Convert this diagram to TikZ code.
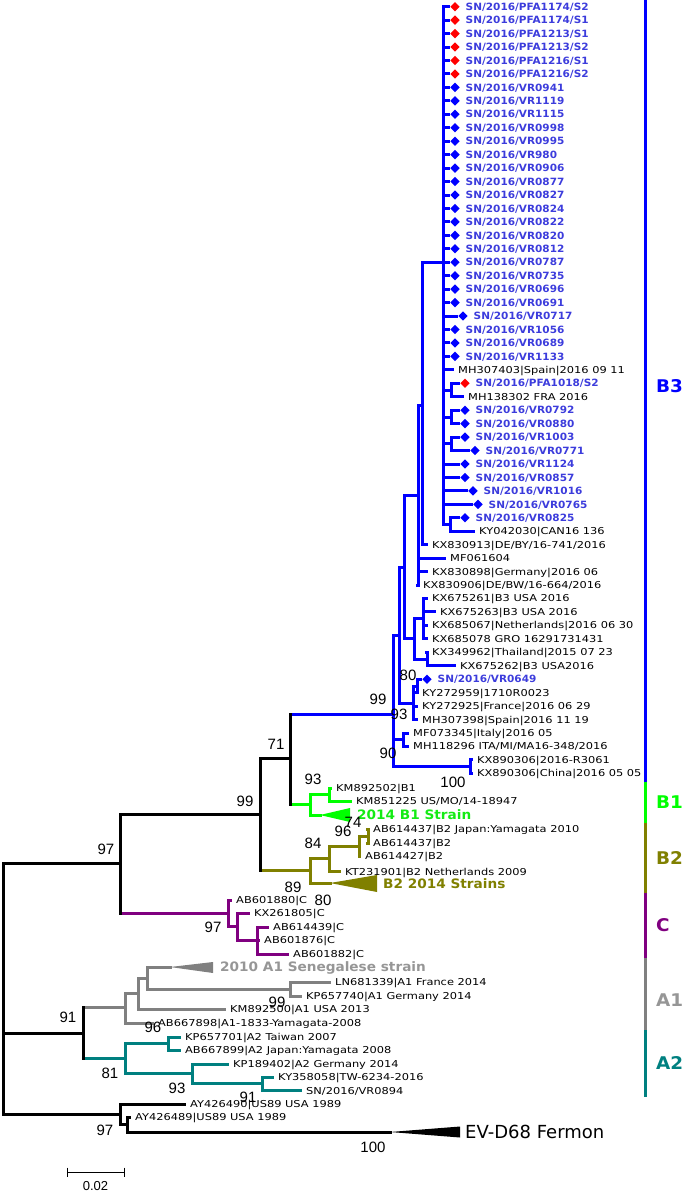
\documentclass[tikz,border=0pt]{standalone}
\usepackage{fontspec}
\newfontfamily\accfont{DejaVu Sans}[FakeStretch=1.2]
\newfontfamily\snfont{DejaVu Sans}[FakeStretch=1.05]
\newfontfamily\evfont{DejaVu Sans}
\newfontfamily\numfont{Liberation Sans}
\usetikzlibrary{shapes.geometric}
\definecolor{bthree}{RGB}{0,0,255}
\definecolor{snblue}{RGB}{60,60,220}
\definecolor{dred}{RGB}{255,0,0}
\definecolor{bone}{RGB}{0,255,0}
\definecolor{bonetxt}{RGB}{20,235,20}
\definecolor{btwo}{RGB}{128,128,0}
\definecolor{cclade}{RGB}{128,0,128}
\definecolor{aone}{RGB}{128,128,128}
\definecolor{aonetxt}{RGB}{150,150,150}
\definecolor{atwo}{RGB}{0,128,128}

\begin{document}
\begin{tikzpicture}[x=1pt,y=-1pt,
  br/.style={line width=3pt,line cap=rect},
  lf/.style={br,shorten >=5.5pt},
  df/.style={br,shorten >=1.5pt},
  dia/.style={diamond,inner sep=0pt,minimum size=9.5pt},
  sn/.style={anchor=west,inner sep=0pt,text=snblue,text height=7.3pt,text depth=0pt,
    font=\snfont\bfseries\fontsize{10}{12}\selectfont},
  acc/.style={anchor=west,inner sep=0pt,text height=6.9pt,text depth=0pt,
    font=\accfont\fontsize{9.5}{11}\selectfont},
  grp/.style={anchor=west,inner sep=0pt,text height=9.5pt,text depth=0pt,
    font=\snfont\bfseries\fontsize{13}{15}\selectfont},
  cl/.style={anchor=west,inner sep=0pt,text height=12.8pt,text depth=0pt,
    font=\snfont\bfseries\fontsize{17.5}{20}\selectfont},
  bs/.style={inner sep=0pt,font=\numfont\fontsize{15}{17}\selectfont}]
\useasboundingbox (0,0) rectangle (685,1191);

\coordinate (rt) at (3,988.5);
\coordinate (n97) at (120,863);
\coordinate (n99) at (260,814);
\coordinate (n71) at (290,758);
\coordinate (r3) at (393,714);
\coordinate (y3) at (399,635);
\coordinate (w3) at (404,567);
\coordinate (v3) at (418,495);
\coordinate (u3) at (422,405.5);
\coordinate (t3) at (443,262);
\coordinate (z3) at (414,638.9);
\coordinate (q3) at (423,618.7);
\coordinate (p48) at (427,659);
\coordinate (n93) at (413,703);
\coordinate (n80) at (417,686);
\coordinate (ita) at (403,739.7);
\coordinate (chn) at (470,766.6);
\coordinate (p28) at (451,390);
\coordinate (p30) at (451,417);
\coordinate (p32) at (451,443.8);
\coordinate (p38) at (450,524.5);
\coordinate (b1) at (310,804);
\coordinate (b1a) at (329,794.6);
\coordinate (b1t) at (320,815);
\coordinate (b2) at (310,870.5);
\coordinate (b2a) at (329,858.5);
\coordinate (b2b) at (359,846);
\coordinate (p61) at (368,836);
\coordinate (b2t) at (330,883);
\coordinate (cn) at (228,913);
\coordinate (c2) at (237,926.5);
\coordinate (c3) at (257,940);
\coordinate (an) at (83,1033);
\coordinate (a1n) at (125,1007.5);
\coordinate (a1b) at (138,993.5);
\coordinate (a1c) at (147,978);
\coordinate (a1d) at (290,989);
\coordinate (a1t) at (170,967);
\coordinate (a2n) at (125,1058);
\coordinate (p76) at (168,1043.5);
\coordinate (a2b) at (192,1073.5);
\coordinate (a2c) at (262,1083.8);
\coordinate (on) at (120,1114);
\coordinate (o2) at (127,1124.5);
\coordinate (evt) at (390,1132);

% B3
\foreach \i/\id/\c/\dx in {0/{PFA1174/S2}/dred/455, 1/{PFA1174/S1}/dred/455,
    2/{PFA1213/S1}/dred/455, 3/{PFA1213/S2}/dred/455, 4/{PFA1216/S1}/dred/455,
    5/{PFA1216/S2}/dred/455, 6/VR0941/bthree/455, 7/VR1119/bthree/455,
    8/VR1115/bthree/455, 9/VR0998/bthree/455, 10/VR0995/bthree/455,
    11/VR980/bthree/455, 12/VR0906/bthree/455, 13/VR0877/bthree/455,
    14/VR0827/bthree/455, 15/VR0824/bthree/455, 16/VR0822/bthree/455,
    17/VR0820/bthree/455, 18/VR0812/bthree/455, 19/VR0787/bthree/455,
    20/VR0735/bthree/455, 21/VR0696/bthree/455, 22/VR0691/bthree/455,
    23/VR0717/bthree/463, 24/VR1056/bthree/455, 25/VR0689/bthree/455,
    26/VR1133/bthree/455, 34/VR1124/bthree/465, 35/VR0857/bthree/465,
    36/VR1016/bthree/473, 37/VR0765/bthree/478}{
  \pgfmathsetmacro\y{6.7+13.45*\i}
  \node[dia,fill=\c] (d\i) at (\dx,\y) {};
  \node[sn] (s\i) at (\dx+10.5,\y) {SN/2016/\id};
  \draw[df,bthree] (t3) |- (d\i.west);
}
\node[acc] (a27) at (458,369.85) {MH307403|Spain|2016 09 11};
\node[dia,fill=dred] (d28) at (465,383.3) {};
\node[sn] (s28) at (475.5,383.3) {SN/2016/PFA1018/S2};
\node[acc] (a29) at (468,396.75) {MH138302 FRA 2016};
\node[dia,fill=bthree] (d30) at (465,410.2) {};
\node[sn] (s30) at (475.5,410.2) {SN/2016/VR0792};
\node[dia,fill=bthree] (d31) at (465,423.65) {};
\node[sn] (s31) at (475.5,423.65) {SN/2016/VR0880};
\node[dia,fill=bthree] (d32) at (465,437.1) {};
\node[sn] (s32) at (475.5,437.1) {SN/2016/VR1003};
\node[dia,fill=bthree] (d33) at (475,450.55) {};
\node[sn] (s33) at (485.5,450.55) {SN/2016/VR0771};
\node[dia,fill=bthree] (d38) at (465,517.8) {};
\node[sn] (s38) at (475.5,517.8) {SN/2016/VR0825};
\node[acc] (a39) at (479,531.25) {KY042030|CAN16 136};
\node[acc] (a40) at (432,544.7) {KX830913|DE/BY/16-741/2016};
\node[acc] (a41) at (450,558.15) {MF061604};
\node[acc] (a42) at (432,571.6) {KX830898|Germany|2016 06};
\node[acc] (a43) at (423,585.05) {KX830906|DE/BW/16-664/2016};
\node[acc] (a44) at (432,598.5) {KX675261|B3 USA 2016};
\node[acc] (a45) at (440,611.95) {KX675263|B3 USA 2016};
\node[acc] (a46) at (432,625.4) {KX685067|Netherlands|2016 06 30};
\node[acc] (a47) at (432,638.85) {KX685078 GRO 16291731431};
\node[acc] (a48) at (432,652.3) {KX349962|Thailand|2015 07 23};
\node[acc] (a49) at (460,665.75) {KX675262|B3 USA2016};
\node[dia,fill=bthree] (d50) at (427,679.2) {};
\node[sn] (s50) at (437.5,679.2) {SN/2016/VR0649};
\node[acc] (a51) at (422,692.65) {KY272959|1710R0023};
\node[acc] (a52) at (422,706.1) {KY272925|France|2016 06 29};
\node[acc] (a53) at (422,719.55) {MH307398|Spain|2016 11 19};
\node[acc] (a54) at (413,733) {MF073345|Italy|2016 05};
\node[acc] (a55) at (413,746.45) {MH118296 ITA/MI/MA16-348/2016};
\node[acc] (a56) at (477,759.9) {KX890306|2016-R3061};
\node[acc] (a57) at (477,773.35) {KX890306|China|2016 05 05};
\begin{scope}[bthree]
  \draw[br] (n71 |- r3) -- (r3);
  \draw[br] (r3) |- (y3) (r3) |- (ita) (r3) |- (chn);
  \draw[br] (y3) |- (w3) (y3) |- (n93);
  \draw[br] (w3) |- (v3) (w3) |- (z3);
  \draw[br] (v3) |- (u3) (u3) |- (t3);
  \draw[br] (t3) |- (p28) (t3) |- (p30) (t3) |- (p32) (t3) |- (p38);
  \draw[br] (z3) |- (q3) (z3) |- (p48) (n93) |- (n80);
  \draw[lf] (t3) |- (a27.west);
  \draw[df] (p28) |- (d28.west);
  \draw[lf] (p28) |- (a29.west);
  \draw[df] (p30) |- (d30.west);
  \draw[df] (p30) |- (d31.west);
  \draw[df] (p32) |- (d32.west);
  \draw[df] (p32) |- (d33.west);
  \draw[df] (p38) |- (d38.west);
  \draw[lf] (p38) |- (a39.west);
  \draw[lf] (u3) |- (a40.west);
  \draw[lf] (v3) |- (a41.west);
  \draw[lf] (v3) |- (a42.west);
  \draw[lf] (v3) |- (a43.west);
  \draw[lf] (q3) |- (a44.west);
  \draw[lf] (q3) |- (a45.west);
  \draw[lf] (q3) |- (a46.west);
  \draw[lf] (q3) |- (a47.west);
  \draw[lf] (p48) |- (a48.west);
  \draw[lf] (p48) |- (a49.west);
  \draw[df] (n80) |- (d50.west);
  \draw[lf] (n80) |- (a51.west);
  \draw[lf] (n93) |- (a52.west);
  \draw[lf] (n93) |- (a53.west);
  \draw[lf] (ita) |- (a54.west);
  \draw[lf] (ita) |- (a55.west);
  \draw[lf] (chn) |- (a56.west);
  \draw[lf] (chn) |- (a57.west);
\end{scope}

% B1
\node[acc] (a58) at (336,788.3) {KM892502|B1};
\node[acc] (a59) at (356,801) {KM851225 US/MO/14-18947};
\node[grp,text=bonetxt] (b1s) at (357,815) {2014 B1 Strain};
\begin{scope}[bone]
  \draw[br] (n71 |- b1) -- (b1);
  \draw[br] (b1) |- (b1a) (b1) |- (b1t);
  \draw[lf] (b1a) |- (a58.west);
  \draw[lf] (b1a) |- (a59.west);
  \fill (b1t) -- ++(30,-7) -- ++(0,14) -- cycle;
\end{scope}

% B2
\node[acc] (a61) at (373,829) {AB614437|B2 Japan:Yamagata 2010};
\node[acc] (a62) at (373,843) {AB614437|B2};
\node[acc] (a63) at (365,856.5) {AB614427|B2};
\node[acc] (a64) at (345,871.7) {KT231901|B2 Netherlands 2009};
\node[grp,text=btwo] (b2s) at (383,884) {B2 2014 Strains};
\begin{scope}[btwo]
  \draw[br] (n99 |- b2) -- (b2);
  \draw[br] (b2) |- (b2a) (b2) |- (b2t) (b2a) |- (b2b) (b2b) |- (p61);
  \draw[lf] (b2a) |- (a64.west);
  \draw[lf] (b2b) |- (a63.west);
  \draw[lf] (p61) |- (a61.west);
  \draw[lf] (p61) |- (a62.west);
  \fill (b2t) -- ++(47,-8) -- ++(0,17) -- cycle;
\end{scope}

% C
\node[acc] (a66) at (236,900) {AB601880|C};
\node[acc] (a67) at (254,913) {KX261805|C};
\node[acc] (a68) at (273,927) {AB614439|C};
\node[acc] (a69) at (264,940) {AB601876|C};
\node[acc] (a70) at (293,954) {AB601882|C};
\begin{scope}[cclade]
  \draw[br] (n97 |- cn) -- (cn);
  \draw[br] (cn) |- (c2) (c2) |- (c3);
  \draw[lf] (cn) |- (a66.west);
  \draw[lf] (c2) |- (a67.west);
  \draw[lf] (c3) |- (a68.west);
  \draw[lf] (c3) |- (a69.west);
  \draw[lf] (c3) |- (a70.west);
\end{scope}

% A1
\node[grp,text=aonetxt] (a71) at (220,967) {2010 A1 Senegalese strain};
\node[acc] (a72) at (335,982.5) {LN681339|A1 France 2014};
\node[acc] (a73) at (306,996) {KP657740|A1 Germany 2014};
\node[acc] (a74) at (230,1009) {KM892500|A1 USA 2013};
\node[acc] (a75) at (158,1023) {AB667898|A1-1833-Yamagata-2008};
\begin{scope}[aone]
  \draw[br] (an |- a1n) -- (a1n);
  \draw[br] (a1n) |- (a1b) (a1b) |- (a1c) (a1c) |- (a1t) (a1c) |- (a1d);
  \draw[lf] (a1n) |- (a75.west);
  \draw[lf] (a1b) |- (a74.west);
  \draw[lf] (a1d) |- (a72.west);
  \draw[lf] (a1d) |- (a73.west);
  \fill (a1t) -- ++(43,-5) -- ++(0,11) -- cycle;
\end{scope}

% A2
\node[acc] (a76) at (185,1037) {KP657701|A2 Taiwan 2007};
\node[acc] (a77) at (185,1050) {AB667899|A2 Japan:Yamagata 2008};
\node[acc] (a78) at (233,1064) {KP189402|A2 Germany 2014};
\node[acc] (a79) at (278,1077) {KY358058|TW-6234-2016};
\node[acc] (a80) at (306,1090.7) {SN/2016/VR0894};
\begin{scope}[atwo]
  \draw[br] (an |- a2n) -- (a2n);
  \draw[br] (a2n) |- (p76) (a2n) |- (a2b) (a2b) |- (a2c);
  \draw[lf] (p76) |- (a76.west);
  \draw[lf] (p76) |- (a77.west);
  \draw[lf] (a2b) |- (a78.west);
  \draw[lf] (a2c) |- (a79.west);
  \draw[lf] (a2c) |- (a80.west);
\end{scope}

% backbone and outgroup
\node[acc] (a81) at (190,1104) {AY426490|US89 USA 1989};
\node[acc] (a82) at (135,1117) {AY426489|US89 USA 1989};
\node[anchor=west,inner sep=0pt,font=\evfont\fontsize{18}{21}\selectfont] (ev) at (465,1132) {EV-D68 Fermon};
\draw[br] (rt) |- (n97) (rt) |- (an) (rt) |- (on);
\draw[br] (n97) -- (n97 |- cn) (n97) |- (n99);
\draw[br] (n99) |- (n71) (n99) -- (n99 |- b2);
\draw[br] (n71) -- (n71 |- r3) (n71) -- (n71 |- b1);
\draw[br] (an) -- (an |- a1n) (an) -- (an |- a2n);
\draw[br] (on) |- (o2) (o2) |- (evt);
\draw[lf] (on) |- (a81.west);
\draw[lf] (o2) |- (a82.west);
\fill (evt) -- ++(70,-5.5) -- ++(0,11) -- cycle;

% bootstrap values
\foreach \p/\v [count=\k] in {(106,849)/97, (245,801)/99, (276,744)/71, (378,699)/99,
    (399,714)/93, (408,675)/80, (388,753)/90, (453,782)/100, (313,779)/93,
    (353,822)/74, (343,831)/96, (313,843)/84, (293,887)/89, (323,900)/80,
    (213,927)/97, (68,1017)/91, (110,1073)/81, (153,1027)/96, (277,1002)/99,
    (177,1088)/93, (248,1097)/91, (105,1130)/97, (373,1147)/100}
  \node[bs] (bs\k) at \p {\v};

% scale bar
\coordinate (sb1) at (67,1172);
\coordinate (sb2) at (124,1172);
\draw[line width=1pt] (sb1) -- (sb2) (sb1) ++(0,-4.5) -- ++(0,9) (sb2) ++(0,-4.5) -- ++(0,9);
\node[bs,font=\numfont\fontsize{13}{15}\selectfont] (sbl) at (95.5,1186) {0.02};

% clade bars
\coordinate (k0) at (645,0);
\coordinate (k1) at (645,782);
\coordinate (k2) at (645,823);
\coordinate (k3) at (645,893);
\coordinate (k4) at (645,958);
\coordinate (k5) at (645,1030);
\coordinate (k6) at (645,1097);
\draw[line width=3pt,bthree] (k0) -- (k1);
\draw[line width=3pt,bone] (k1) -- (k2);
\draw[line width=3pt,btwo] (k2) -- (k3);
\draw[line width=3pt,cclade] (k3) -- (k4);
\draw[line width=3pt,aone] (k4) -- (k5);
\draw[line width=3pt,atwo] (k5) -- (k6);
\node[cl,text=bthree] (lb3) at (656,386) {B3};
\node[cl,text=bone] (lb1) at (656,802) {B1};
\node[cl,text=btwo] (lb2) at (656,858) {B2};
\node[cl,text=cclade] (lc) at (656,925) {C};
\node[cl,text=aonetxt] (la1) at (656,1000) {A1};
\node[cl,text=atwo] (la2) at (656,1063) {A2};
\end{tikzpicture}
\end{document}
